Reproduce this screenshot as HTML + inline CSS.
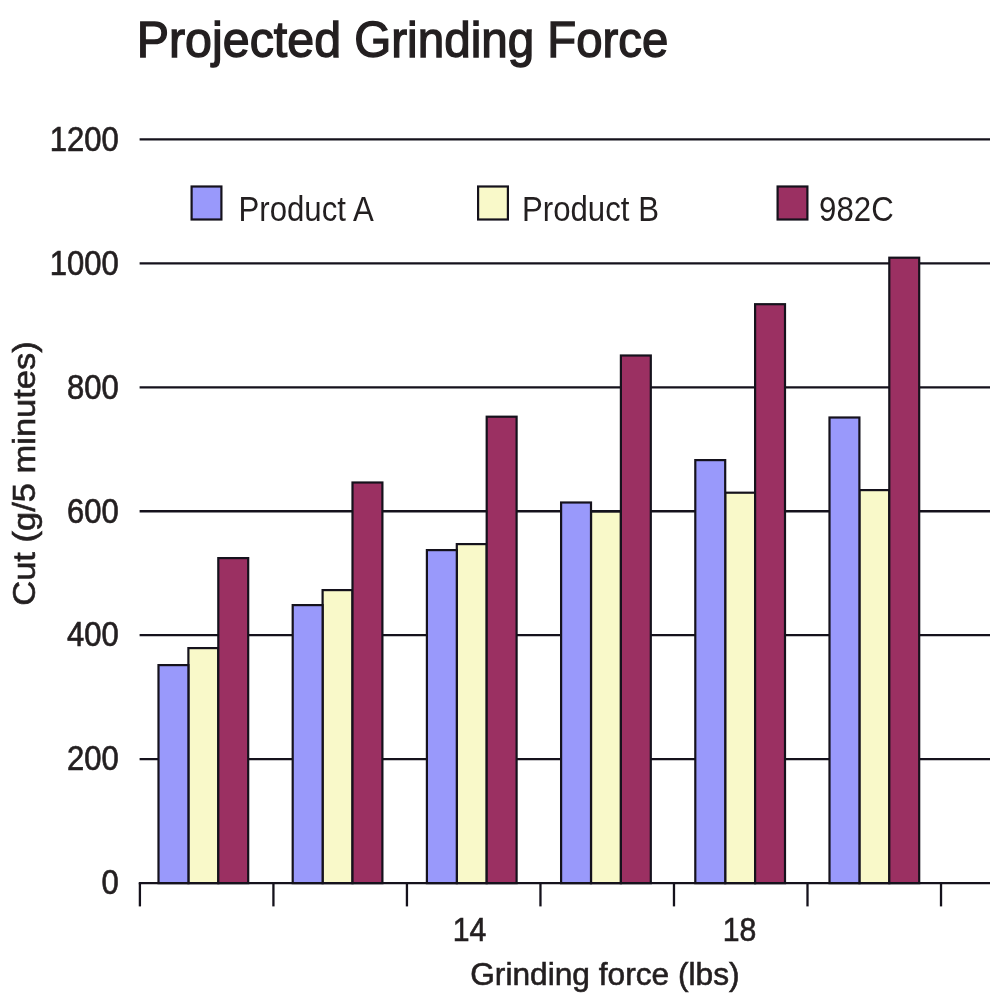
<!DOCTYPE html>
<html><head><meta charset="utf-8"><title>Projected Grinding Force</title>
<style>
html,body{margin:0;padding:0;background:#fff;}
body{width:1000px;height:1000px;overflow:hidden;}
svg{display:block;filter:blur(0.4px);font-family:"Liberation Sans",Arial,Helvetica,sans-serif;}
</style></head><body>
<svg width="1000" height="1000" viewBox="0 0 1000 1000">
<rect width="1000" height="1000" fill="#fff"/>
<line x1="139.6" y1="139.40" x2="990" y2="139.40" stroke="#15121c" stroke-width="2.3"/>
<line x1="139.6" y1="263.35" x2="990" y2="263.35" stroke="#15121c" stroke-width="2.3"/>
<line x1="139.6" y1="387.30" x2="990" y2="387.30" stroke="#15121c" stroke-width="2.3"/>
<line x1="139.6" y1="511.25" x2="990" y2="511.25" stroke="#15121c" stroke-width="2.3"/>
<line x1="139.6" y1="635.20" x2="990" y2="635.20" stroke="#15121c" stroke-width="2.3"/>
<line x1="139.6" y1="759.15" x2="990" y2="759.15" stroke="#15121c" stroke-width="2.3"/>
<rect x="188.40" y="648.10" width="29.9" height="235.05" fill="#f9f9c9" stroke="#15121c" stroke-width="2.2"/>
<rect x="158.50" y="665.10" width="29.9" height="218.05" fill="#9999fb" stroke="#15121c" stroke-width="2.2"/>
<rect x="218.30" y="558.10" width="29.9" height="325.05" fill="#9b3062" stroke="#15121c" stroke-width="2.2"/>
<rect x="322.60" y="590.10" width="29.9" height="293.05" fill="#f9f9c9" stroke="#15121c" stroke-width="2.2"/>
<rect x="292.70" y="605.10" width="29.9" height="278.05" fill="#9999fb" stroke="#15121c" stroke-width="2.2"/>
<rect x="352.50" y="482.50" width="29.9" height="400.65" fill="#9b3062" stroke="#15121c" stroke-width="2.2"/>
<rect x="456.80" y="544.10" width="29.9" height="339.05" fill="#f9f9c9" stroke="#15121c" stroke-width="2.2"/>
<rect x="426.90" y="550.10" width="29.9" height="333.05" fill="#9999fb" stroke="#15121c" stroke-width="2.2"/>
<rect x="486.70" y="416.70" width="29.9" height="466.45" fill="#9b3062" stroke="#15121c" stroke-width="2.2"/>
<rect x="591.00" y="511.60" width="29.9" height="371.55" fill="#f9f9c9" stroke="#15121c" stroke-width="2.2"/>
<rect x="561.10" y="502.50" width="29.9" height="380.65" fill="#9999fb" stroke="#15121c" stroke-width="2.2"/>
<rect x="620.90" y="355.50" width="29.9" height="527.65" fill="#9b3062" stroke="#15121c" stroke-width="2.2"/>
<rect x="725.20" y="492.70" width="29.9" height="390.45" fill="#f9f9c9" stroke="#15121c" stroke-width="2.2"/>
<rect x="695.30" y="460.10" width="29.9" height="423.05" fill="#9999fb" stroke="#15121c" stroke-width="2.2"/>
<rect x="755.10" y="304.20" width="29.9" height="578.95" fill="#9b3062" stroke="#15121c" stroke-width="2.2"/>
<rect x="859.40" y="490.10" width="29.9" height="393.05" fill="#f9f9c9" stroke="#15121c" stroke-width="2.2"/>
<rect x="829.50" y="417.50" width="29.9" height="465.65" fill="#9999fb" stroke="#15121c" stroke-width="2.2"/>
<rect x="889.30" y="257.70" width="29.9" height="625.45" fill="#9b3062" stroke="#15121c" stroke-width="2.2"/>
<line x1="138.75" y1="883.15" x2="990" y2="883.15" stroke="#15121c" stroke-width="2.3"/>
<line x1="139.90" y1="883.15" x2="139.90" y2="906.4" stroke="#15121c" stroke-width="2.3"/>
<line x1="273.42" y1="883.15" x2="273.42" y2="906.4" stroke="#15121c" stroke-width="2.3"/>
<line x1="406.94" y1="883.15" x2="406.94" y2="906.4" stroke="#15121c" stroke-width="2.3"/>
<line x1="540.46" y1="883.15" x2="540.46" y2="906.4" stroke="#15121c" stroke-width="2.3"/>
<line x1="673.98" y1="883.15" x2="673.98" y2="906.4" stroke="#15121c" stroke-width="2.3"/>
<line x1="807.50" y1="883.15" x2="807.50" y2="906.4" stroke="#15121c" stroke-width="2.3"/>
<line x1="941.02" y1="883.15" x2="941.02" y2="906.4" stroke="#15121c" stroke-width="2.3"/>
<text transform="translate(118.7,150.65) scale(1,1.115)" text-anchor="end" font-size="31.0" fill="#231f20" stroke="#231f20" stroke-width="0.6">1200</text>
<text transform="translate(118.7,274.6) scale(1,1.115)" text-anchor="end" font-size="31.0" fill="#231f20" stroke="#231f20" stroke-width="0.6">1000</text>
<text transform="translate(118.7,398.55) scale(1,1.115)" text-anchor="end" font-size="31.0" fill="#231f20" stroke="#231f20" stroke-width="0.6">800</text>
<text transform="translate(118.7,522.5) scale(1,1.115)" text-anchor="end" font-size="31.0" fill="#231f20" stroke="#231f20" stroke-width="0.6">600</text>
<text transform="translate(118.7,646.45) scale(1,1.115)" text-anchor="end" font-size="31.0" fill="#231f20" stroke="#231f20" stroke-width="0.6">400</text>
<text transform="translate(118.7,770.4) scale(1,1.115)" text-anchor="end" font-size="31.0" fill="#231f20" stroke="#231f20" stroke-width="0.6">200</text>
<text transform="translate(118.7,894.35) scale(1,1.115)" text-anchor="end" font-size="31.0" fill="#231f20" stroke="#231f20" stroke-width="0.6">0</text>
<text transform="translate(469.6,941.3) scale(1,1.05)" text-anchor="middle" font-size="31.3" fill="#231f20" stroke="#231f20" stroke-width="0.6" textLength="33.6" lengthAdjust="spacingAndGlyphs">14</text>
<text transform="translate(739.6,941.3) scale(1,1.05)" text-anchor="middle" font-size="31.3" fill="#231f20" stroke="#231f20" stroke-width="0.6" textLength="33.6" lengthAdjust="spacingAndGlyphs">18</text>
<text transform="translate(604.9,985.4) scale(1,1.0)" text-anchor="middle" font-size="31.7" fill="#231f20" stroke="#231f20" stroke-width="0.6">Grinding force (lbs)</text>
<text transform="translate(35.2,473.5) rotate(-90)" text-anchor="middle" font-size="30.8" textLength="264.5" lengthAdjust="spacingAndGlyphs" fill="#231f20" stroke="#231f20" stroke-width="0.6">Cut (g/5 minutes)</text>
<text transform="translate(0,56.9) scale(1,1.05)" font-size="47.75" fill="#231f20" stroke="#231f20" stroke-width="1.3"><tspan x="136.7" textLength="204.4" lengthAdjust="spacingAndGlyphs">Projected</tspan> <tspan x="354.2" textLength="180.0" lengthAdjust="spacingAndGlyphs">Grinding</tspan> <tspan x="547.3" textLength="121.0" lengthAdjust="spacingAndGlyphs">Force</tspan></text>
<rect x="191.6" y="186.5" width="29.8" height="33" fill="#9999fb" stroke="#15121c" stroke-width="2.2"/>
<text transform="translate(238.5,220.6) scale(1,1.1)" text-anchor="start" font-size="31.2" fill="#231f20" >Product A</text>
<rect x="478.1" y="186.5" width="29.8" height="33" fill="#f9f9c9" stroke="#15121c" stroke-width="2.2"/>
<text transform="translate(522.0,220.6) scale(1,1.1)" text-anchor="start" font-size="31.2" fill="#231f20" >Product B</text>
<rect x="777.6" y="186.5" width="29.8" height="33" fill="#9b3062" stroke="#15121c" stroke-width="2.2"/>
<text transform="translate(819.1,220.6) scale(1,1.1)" text-anchor="start" font-size="31.2" fill="#231f20" >982C</text>
</svg></body></html>
